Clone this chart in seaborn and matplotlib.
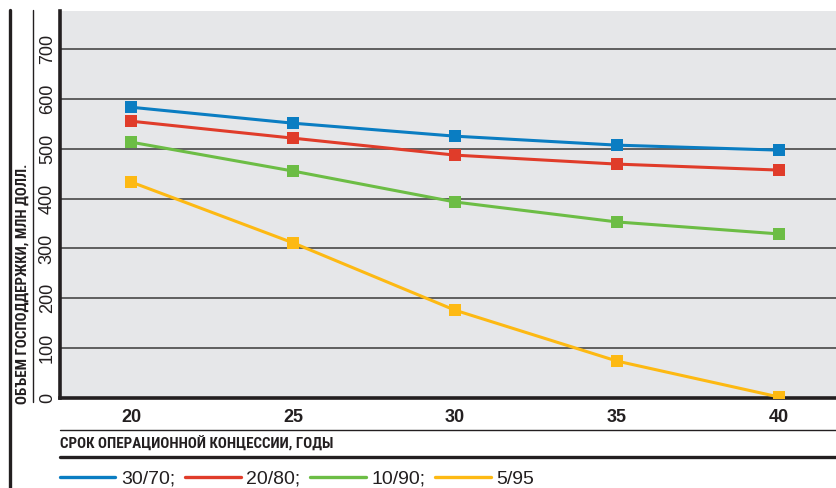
import pandas as pd
import seaborn as sns
import matplotlib.pyplot as plt
from matplotlib.lines import Line2D

# data
years = [20, 25, 30, 35, 40]
share_30_70 = [583, 551, 525, 507, 497]
share_20_80 = [555, 521, 487, 469, 457]
share_10_90 = [513, 455, 393, 353, 329]
share_5_95 = [433, 311, 176, 74, 2]
series_names = ['30/70;', '20/80;', '10/90;', '5/95']
colors = ['#0A7DC2', '#E03C2A', '#6CBD45', '#FDB913']
y_ticks = [0, 100, 200, 300, 400, 500, 600, 700]

rows = []
for name, vals in zip(series_names, [share_30_70, share_20_80, share_10_90, share_5_95]):
    for x, v in zip(years, vals):
        rows.append({'year': x, 'value': v, 'series': name})
df = pd.DataFrame(rows)

sns.set_theme(style='white')
plt.rcParams['font.family'] = ['Liberation Sans', 'DejaVu Sans']
narrow = ['Roboto Condensed', 'Liberation Sans Narrow', 'Liberation Sans']

fig = plt.figure(figsize=(8.36, 4.88), dpi=100)
ax = fig.add_axes([60 / 836, 90 / 488, 776 / 836, 387 / 488])
ax.set_facecolor('#E6E7E9')

sns.lineplot(data=df, x='year', y='value', hue='series', palette=colors,
             marker='s', markersize=8, markeredgewidth=0, linewidth=2.2,
             dashes=False, legend=False, ax=ax, zorder=3)

ax.set_xlim(17.8, 41.76)
ax.set_ylim(0, 776)
ax.set_xticks(years)
ax.set_yticks(y_ticks)
ax.set_xticklabels([str(y) for y in years], fontsize=13, fontweight='bold', color='#231F20')
ax.set_yticklabels([str(y) for y in y_ticks], fontsize=13, rotation=90, va='center', color='#231F20')
ax.tick_params(axis='both', length=0, pad=8)
ax.tick_params(axis='y', pad=3)
for t in y_ticks[1:]:
    ax.axhline(t, color='#3a3a3a', linewidth=1.1, zorder=1)
ax.set_xlabel('')
ax.set_ylabel('')
for s in ['top', 'right']:
    ax.spines[s].set_visible(False)
for s in ['left', 'bottom']:
    ax.spines[s].set_color('#231F20')
    ax.spines[s].set_linewidth(2.6)

# frame decorations around the chart
fig.add_artist(Line2D([10 / 836, 10 / 836], [0, 478 / 488], color='#231F20', lw=2.4))
fig.add_artist(Line2D([33 / 836, 33 / 836], [86 / 488, 478 / 488], color='#231F20', lw=1.0))
fig.add_artist(Line2D([60 / 836, 1], [58 / 488, 58 / 488], color='#231F20', lw=1.0))
fig.add_artist(Line2D([60 / 836, 1], [31 / 488, 31 / 488], color='#231F20', lw=2.4))

fig.text(22.5 / 836, 84 / 488, 'ОБЪЕМ ГОСПОДДЕРЖКИ, МЛН ДОЛЛ.', rotation=90,
         ha='center', va='bottom', fontsize=10.8, fontweight='bold', color='#231F20',
         family=narrow)
fig.text(60 / 836, 44 / 488, 'СРОК ОПЕРАЦИОННОЙ КОНЦЕССИИ, ГОДЫ',
         ha='left', va='center', fontsize=10.8, fontweight='bold', color='#231F20',
         family=narrow)

handles = [Line2D([], [], color=c, lw=2.4) for c in colors]
fig.legend(handles, series_names, loc='center left', bbox_to_anchor=(60 / 836, 9 / 488),
           ncol=4, frameon=False, handlelength=2.85, handletextpad=0.3,
           columnspacing=0.5, borderpad=0, borderaxespad=0, fontsize=14,
           labelcolor='#231F20')

fig.savefig('out.png', dpi=100)
